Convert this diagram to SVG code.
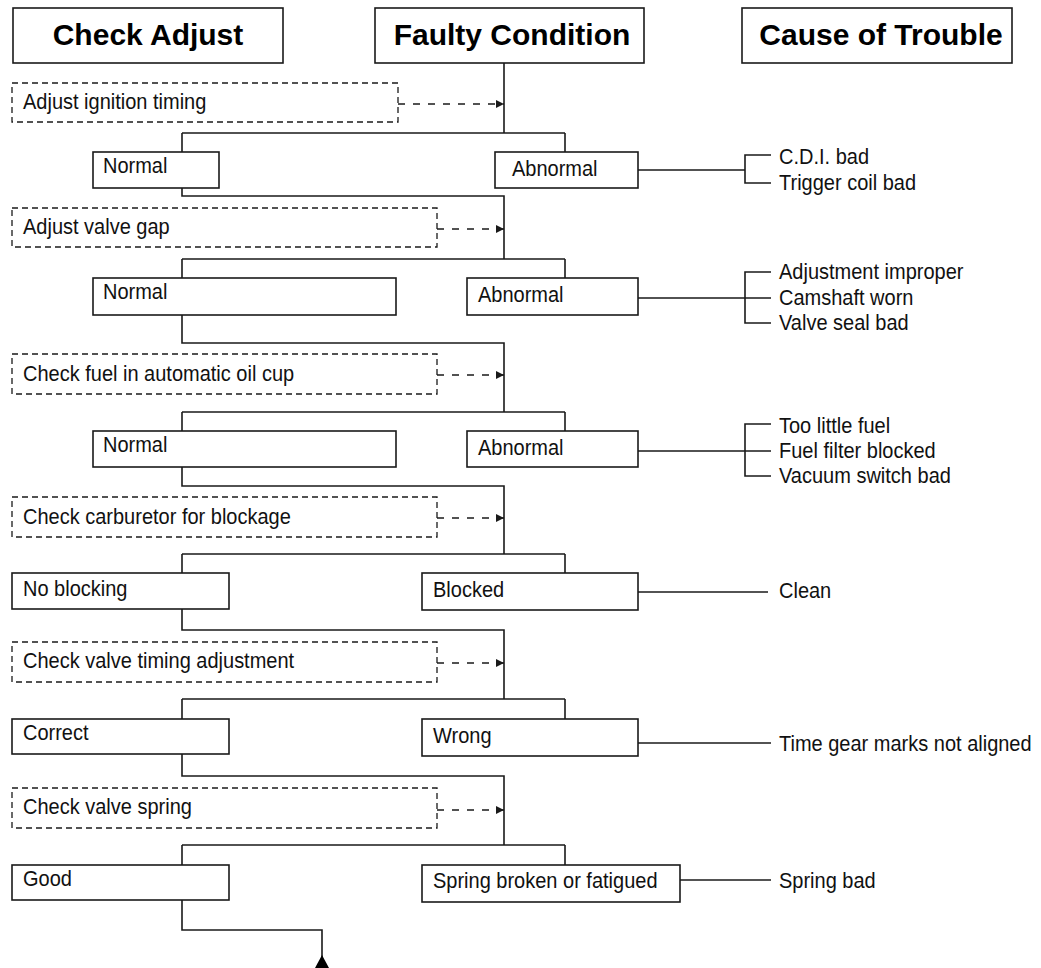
<svg xmlns="http://www.w3.org/2000/svg" width="1041" height="968" viewBox="0 0 1041 968">
<style>
  .box{fill:#fff;stroke:#1a1a1a;stroke-width:1.6}
  .dbox{fill:#fff;stroke:#1a1a1a;stroke-width:1.3;stroke-dasharray:6 4}
  .ln{fill:none;stroke:#1a1a1a;stroke-width:1.6}
  .dln{fill:none;stroke:#1a1a1a;stroke-width:1.3;stroke-dasharray:7 8}
  .hd{font-family:"Liberation Sans",Arial,sans-serif;font-weight:bold;font-size:30px;fill:#000;text-anchor:middle}
  .t{font-family:"Liberation Sans",Arial,sans-serif;font-size:22px;fill:#111;transform:scale(0.9091,1)}
</style>
<defs>
  <marker id="arr" viewBox="0 0 8 8" refX="8" refY="4" markerWidth="8" markerHeight="9" markerUnits="userSpaceOnUse" orient="auto">
    <path d="M0,0 L8,4 L0,8 z" fill="#1a1a1a"/>
  </marker>
</defs>
<rect width="1041" height="968" fill="#fff"/>

<g id="connectors">
  <path class="ln" d="M504,63 V133 M182,133 H565 M182,133 V152 M565,133 V152"/>
  <path class="ln" d="M182,188 V196 H504 V259 M182,259 H565 M182,259 V278 M565,259 V278"/>
  <path class="ln" d="M182,315 V343 H504 V412 M182,412 H565 M182,412 V431 M565,412 V431"/>
  <path class="ln" d="M182,467 V486 H504 V554 M182,554 H565 M182,554 V573 M565,554 V573"/>
  <path class="ln" d="M182,609 V630 H504 V699 M182,699 H565 M182,699 V719 M565,699 V719"/>
  <path class="ln" d="M182,754 V776 H504 V845 M182,845 H565 M182,845 V865 M565,845 V865"/>
  <path class="ln" d="M182,900 V930 H322 V957"/>
  <polygon points="322,955 315,968 329,968" fill="#000"/>
  <line class="dln" x1="398" y1="104" x2="504" y2="104" marker-end="url(#arr)"/>
  <line class="dln" x1="437" y1="229" x2="504" y2="229" marker-end="url(#arr)"/>
  <line class="dln" x1="437" y1="375" x2="504" y2="375" marker-end="url(#arr)"/>
  <line class="dln" x1="437" y1="518" x2="504" y2="518" marker-end="url(#arr)"/>
  <line class="dln" x1="437" y1="663" x2="504" y2="663" marker-end="url(#arr)"/>
  <line class="dln" x1="437" y1="810" x2="504" y2="810" marker-end="url(#arr)"/>
  <path class="ln" d="M638,170 H745 M771,155 H745 V183 H771"/>
  <path class="ln" d="M638,298 H771 M771,272 H745 V323 H771"/>
  <path class="ln" d="M638,451 H771 M771,424 H745 V476 H771"/>
  <path class="ln" d="M638,592 H768"/>
  <path class="ln" d="M638,743 H771"/>
  <path class="ln" d="M680,880 H771"/>
</g>

<g id="hdr-check"><rect class="box" x="13" y="8" width="270" height="55"/><text class="hd" x="148" y="45">Check Adjust</text></g>
<g id="hdr-faulty"><rect class="box" x="375" y="8" width="269" height="55"/><text class="hd" x="512" y="45">Faulty Condition</text></g>
<g id="hdr-cause"><rect class="box" x="742" y="8" width="270" height="55"/><text class="hd" x="881" y="45">Cause of Trouble</text></g>

<g id="check1"><rect class="dbox" x="12" y="83" width="386" height="39"/><text class="t" x="25.3" y="109">Adjust ignition timing</text></g>
<g id="normal1"><rect class="box" x="93" y="152" width="126" height="36"/><text class="t" x="113.3" y="173">Normal</text></g>
<g id="abnormal1"><rect class="box" x="495" y="152" width="143" height="36"/><text class="t" x="563.2" y="176">Abnormal</text></g>
<g id="cause1"><text class="t" x="856.9" y="164">C.D.I. bad</text><text class="t" x="856.9" y="190">Trigger coil bad</text></g>

<g id="check2"><rect class="dbox" x="12" y="208" width="425" height="39"/><text class="t" x="25.3" y="234">Adjust valve gap</text></g>
<g id="normal2"><rect class="box" x="93" y="278" width="303" height="37"/><text class="t" x="113.3" y="299">Normal</text></g>
<g id="abnormal2"><rect class="box" x="467" y="278" width="171" height="37"/><text class="t" x="525.8" y="302">Abnormal</text></g>
<g id="cause2"><text class="t" x="856.9" y="279">Adjustment improper</text><text class="t" x="856.9" y="305">Camshaft worn</text><text class="t" x="856.9" y="330">Valve seal bad</text></g>

<g id="check3"><rect class="dbox" x="12" y="354" width="425" height="40"/><text class="t" x="25.3" y="381">Check fuel in automatic oil cup</text></g>
<g id="normal3"><rect class="box" x="93" y="431" width="303" height="36"/><text class="t" x="113.3" y="452">Normal</text></g>
<g id="abnormal3"><rect class="box" x="467" y="431" width="171" height="36"/><text class="t" x="525.8" y="455">Abnormal</text></g>
<g id="cause3"><text class="t" x="856.9" y="433">Too little fuel</text><text class="t" x="856.9" y="458">Fuel filter blocked</text><text class="t" x="856.9" y="483">Vacuum switch bad</text></g>

<g id="check4"><rect class="dbox" x="12" y="497" width="425" height="40"/><text class="t" x="25.3" y="524">Check carburetor for blockage</text></g>
<g id="noblocking"><rect class="box" x="12" y="573" width="217" height="36"/><text class="t" x="25.3" y="596">No blocking</text></g>
<g id="blocked"><rect class="box" x="422" y="573" width="216" height="37"/><text class="t" x="476.3" y="597">Blocked</text></g>
<g id="cause4"><text class="t" x="856.9" y="598">Clean</text></g>

<g id="check5"><rect class="dbox" x="12" y="642" width="425" height="40"/><text class="t" x="25.3" y="668">Check valve timing adjustment</text></g>
<g id="correct"><rect class="box" x="12" y="719" width="217" height="35"/><text class="t" x="25.3" y="740">Correct</text></g>
<g id="wrong"><rect class="box" x="422" y="719" width="216" height="37"/><text class="t" x="476.3" y="743">Wrong</text></g>
<g id="cause5"><text class="t" x="856.9" y="751">Time gear marks not aligned</text></g>

<g id="check6"><rect class="dbox" x="12" y="788" width="425" height="40"/><text class="t" x="25.3" y="814">Check valve spring</text></g>
<g id="good"><rect class="box" x="12" y="865" width="217" height="35"/><text class="t" x="25.3" y="886">Good</text></g>
<g id="springbroken"><rect class="box" x="422" y="865" width="258" height="37"/><text class="t" x="476.3" y="888">Spring broken or fatigued</text></g>
<g id="cause6"><text class="t" x="856.9" y="888">Spring bad</text></g>
</svg>
